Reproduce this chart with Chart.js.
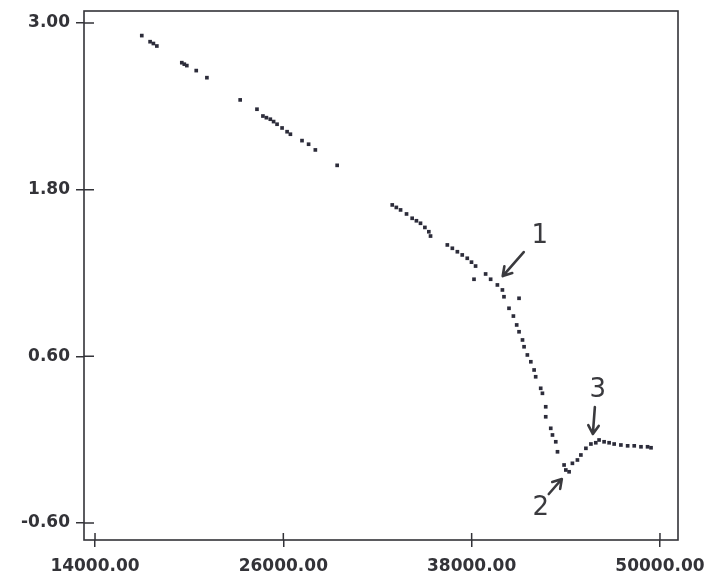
<!DOCTYPE html>
<html><head><meta charset="utf-8">
<script src="https://cdn.jsdelivr.net/npm/chart.js@4.4.1/dist/chart.umd.min.js"></script>
<style>html,body{margin:0;padding:0;background:#fff}#wrap{width:711px;height:585px}</style>
</head><body><div id="wrap"><canvas id="c" width="711" height="585"></canvas></div>
<script>
const xValues = [16980,17510,17720,17940,19530,19690,19850,20450,21130,23250,24320,24700,24920,25170,25380,25600,25920,26240,26450,27190,27610,28040,29430,
  32940,33200,33470,33850,34210,34480,34740,35020,35270,35380,36450,36770,37090,37400,37720,37990,38250,38890,39210,38150,39640,39960,40060,41020,40380,40660,40870,
  41020,41240,41340,41550,41770,41980,42080,42400,42510,42720,42720,43040,43150,43360,43470,43890,44000,44210,
  44420,44740,44960,45280,45600,45910,46120,46440,46760,47080,47510,47940,48360,48790,49210,49430];
const yValues = [2.909,2.865,2.852,2.834,2.714,2.703,2.693,2.657,2.606,2.446,2.379,2.330,2.318,2.307,2.290,2.271,2.244,2.217,2.199,2.153,2.127,2.086,1.975,
  1.690,1.672,1.654,1.625,1.594,1.576,1.558,1.528,1.497,1.466,1.402,1.378,1.353,1.330,1.306,1.278,1.250,1.193,1.155,1.155,1.114,1.078,1.029,1.018,0.946,0.890,0.826,
  0.777,0.718,0.669,0.610,0.561,0.502,0.453,0.370,0.334,0.237,0.165,0.082,0.034,-0.015,-0.087,-0.182,-0.218,-0.231,
  -0.170,-0.146,-0.110,-0.062,-0.031,-0.022,-0.002,-0.015,-0.022,-0.031,-0.038,-0.044,-0.044,-0.051,-0.051,-0.058];
const xTicks = [14000, 26000, 38000, 50000];
const yTicks = [-0.6, 0.6, 1.8, 3.0];
const noteLabels = ['1', '2', '3'];
const noteTextX = [42340, 42404, 46043];
const noteTextY = [1.466, -0.492, 0.358];
const arrowFromX = [41319, 42915, 45851];
const arrowFromY = [1.351, -0.391, 0.235];
const arrowToX = [39979, 43745, 45723];
const arrowToY = [1.178, -0.283, 0.041];

const ink = '#333338';
const labelFont = {family: 'DejaVu Sans', size: 17, weight: 'bold'};

const framePlugin = {
  id: 'frame',
  afterDraw(chart) {
    const {ctx, chartArea: a, scales: {x, y}} = chart;
    ctx.save();
    ctx.strokeStyle = ink;
    ctx.lineWidth = 1.6;
    ctx.strokeRect(a.left, a.top, a.right - a.left, a.bottom - a.top);
    ctx.lineWidth = 1.5;
    ctx.beginPath();
    yTicks.forEach(v => { const p = y.getPixelForValue(v); ctx.moveTo(a.left, p); ctx.lineTo(a.left + 10, p); });
    xTicks.forEach(v => { const p = x.getPixelForValue(v); ctx.moveTo(p, a.bottom); ctx.lineTo(p, a.bottom - 7); });
    ctx.stroke();
    ctx.fillStyle = '#3a3a3e';
    ctx.strokeStyle = '#3a3a3e';
    ctx.font = '26px "DejaVu Sans"';
    ctx.textAlign = 'center';
    ctx.textBaseline = 'middle';
    noteLabels.forEach((t, i) => {
      ctx.fillText(t, x.getPixelForValue(noteTextX[i]), y.getPixelForValue(noteTextY[i]));
      const x0 = x.getPixelForValue(arrowFromX[i]), y0 = y.getPixelForValue(arrowFromY[i]);
      const x1 = x.getPixelForValue(arrowToX[i]), y1 = y.getPixelForValue(arrowToY[i]);
      const ang = Math.atan2(y1 - y0, x1 - x0);
      ctx.lineWidth = 2.6;
      ctx.lineCap = 'round';
      ctx.beginPath();
      ctx.moveTo(x0, y0); ctx.lineTo(x1, y1);
      ctx.moveTo(x1, y1); ctx.lineTo(x1 - 10 * Math.cos(ang - 0.55), y1 - 10 * Math.sin(ang - 0.55));
      ctx.moveTo(x1, y1); ctx.lineTo(x1 - 10 * Math.cos(ang + 0.55), y1 - 10 * Math.sin(ang + 0.55));
      ctx.stroke();
    });
    ctx.restore();
  }
};

new Chart(document.getElementById('c'), {
  type: 'scatter',
  data: {
    datasets: [{
      data: xValues.map((v, i) => ({x: v, y: yValues[i]})),
      pointStyle: 'rect',
      pointRadius: 2.6,
      backgroundColor: '#2c2c3a',
      borderWidth: 0
    }]
  },
  options: {
    responsive: false,
    animation: false,
    devicePixelRatio: 1,
    layout: {padding: {left: 0, top: 11, right: 33, bottom: 0}},
    plugins: {legend: {display: false}, tooltip: {enabled: false}},
    scales: {
      x: {
        type: 'linear', min: 13298, max: 51149,
        afterBuildTicks: s => { s.ticks = xTicks.map(v => ({value: v})); },
        afterFit: s => { s.height = 45; s.paddingLeft = 0; s.paddingRight = 0; },
        ticks: {callback: v => v.toFixed(2), font: labelFont, color: ink, padding: 9, maxRotation: 0, autoSkip: false},
        grid: {display: true, drawOnChartArea: false, drawTicks: true, tickLength: 7, color: ink, lineWidth: 1.5},
        border: {display: false}
      },
      y: {
        type: 'linear', min: -0.722, max: 3.086,
        afterBuildTicks: s => { s.ticks = yTicks.map(v => ({value: v})); },
        afterFit: s => { s.width = 84; s.paddingTop = 0; s.paddingBottom = 0; },
        ticks: {callback: v => v.toFixed(2), font: labelFont, color: ink, padding: 6, autoSkip: false},
        grid: {display: true, drawOnChartArea: false, drawTicks: true, tickLength: 8, color: ink, lineWidth: 1.5},
        border: {display: false}
      }
    }
  },
  plugins: [framePlugin]
});
</script></body></html>
